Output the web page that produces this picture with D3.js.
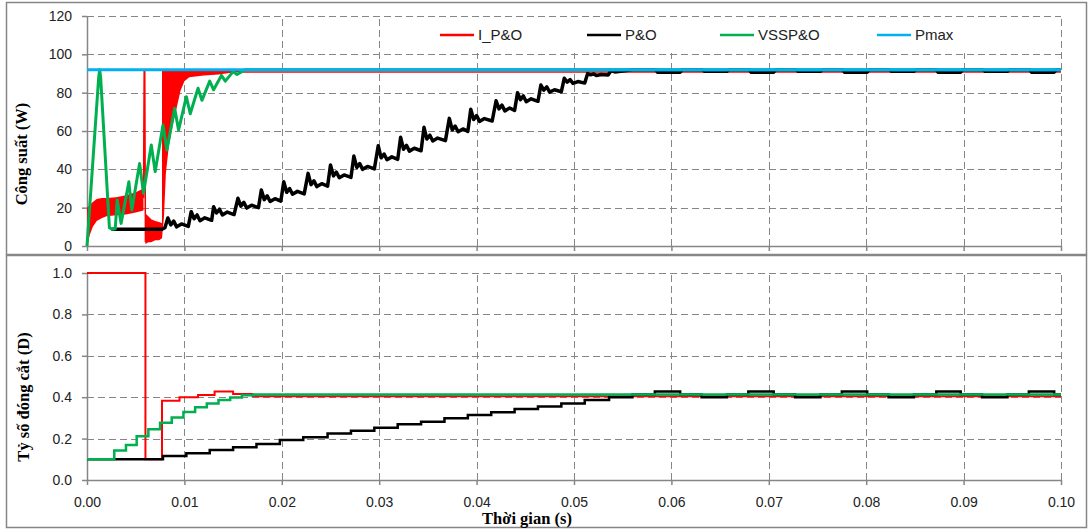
<!DOCTYPE html>
<html>
<head>
<meta charset="utf-8">
<script src="https://cdn.jsdelivr.net/npm/d3@7"></script>
<style>
body { margin: 0; background: #fff; }
svg { display: block; }
</style>
</head>
<body>
<svg id="chart" width="1088" height="531"></svg>
<script>
// ticks
var timeTicks = [0, 0.01, 0.02, 0.03, 0.04, 0.05, 0.06, 0.07, 0.08, 0.09, 0.10];
var powerTicks = [0, 20, 40, 60, 80, 100, 120];
var dutyTicks = [0, 0.2, 0.4, 0.6, 0.8, 1.0];
var seriesNames = ["I_P&O", "P&O", "VSSP&O", "Pmax"];
var seriesColors = ["#ff0000", "#000000", "#00b050", "#00b0f0"];

// ---- top panel: power (W) vs time (s) ----
var pmaxPower = [[0, 92], [0.1, 92]];

// I_P&O: dense oscillation drawn as bands [t, low, high]
var ipoBandA = [[0,0,20],[0.0003,6,21.5],[0.0006,10,23],[0.001,13,24.5],[0.0015,14.5,25],[0.002,15.5,25],[0.003,16,25.5],[0.004,16.5,26.5],[0.005,17.5,28],[0.0058,18.5,30]];
var ipoBandB = [[0.0060,1,17],[0.0063,2,15.5],[0.0066,2,14],[0.0070,3,13],[0.0074,3,12.5],[0.0077,4,12]];
var ipoBandC = [[0.0077,4,92],[0.0079,15,92],[0.0081,38,92],[0.0084,52,92],[0.0088,63,92],[0.0092,72,92],[0.0096,81,92],[0.0100,86,92],[0.0105,88,92],[0.0120,89,92],[0.0135,89.5,92],[0.0150,90.5,92],[0.0160,90.8,92]];
var ipoSpike = [[0.0058,25],[0.00587,92],[0.00593,92],[0.0060,2]];
var ipoSteady = [[0.0160,90.8],[0.1,90.8]];

var poPower = [[0.0025,8.7],[0.0077,8.7],[0.0080,9.5],
  [0.0083,14.6],[0.0086,11],[0.0089,13],[0.0092,10],[0.0097,11.5],[0.0104,10.2],
  [0.0107,17.9],[0.0110,14.2],[0.0113,16.2],[0.0116,13.2],[0.0121,14.7],[0.0128,13.4],
  [0.0130,20.5],[0.0133,17.2],[0.0136,19.2],[0.0139,16.2],[0.0144,17.7],[0.0151,16.4],
  [0.0155,24.9],[0.0158,20.8],[0.0161,22.8],[0.0164,19.8],[0.0169,21.3],[0.0176,20],
  [0.0179,29.2],[0.0182,24.2],[0.0185,26.2],[0.0188,23.2],[0.0193,24.7],[0.0199,23.4],
  [0.0202,33.5],[0.0205,28],[0.0208,30],[0.0211,27],[0.0216,28.5],[0.0223,27.2],
  [0.0227,37.9],[0.0230,32],[0.0233,34],[0.0236,31],[0.0241,32.5],[0.0247,31.2],
  [0.0250,42.3],[0.0253,36.6],[0.0256,38.6],[0.0259,35.6],[0.0264,37.1],[0.0271,35.8],
  [0.0274,46.9],[0.0277,41],[0.0280,43],[0.0283,40],[0.0288,41.5],[0.0295,40.2],
  [0.0299,52.3],[0.0302,46],[0.0305,48],[0.0308,45],[0.0313,46.5],[0.0319,45.2],
  [0.0322,56.7],[0.0325,50.5],[0.0328,52.5],[0.0331,49.5],[0.0336,51],[0.0343,49.7],
  [0.0346,61.9],[0.0349,55.8],[0.0352,57.8],[0.0355,54.8],[0.0360,56.3],[0.0368,55],
  [0.0372,66.6],[0.0375,60.6],[0.0378,62.6],[0.0381,59.6],[0.0386,61.1],[0.0391,59.8],
  [0.0394,71.3],[0.0397,66],[0.0400,68],[0.0403,65],[0.0408,66.5],[0.0416,65.2],
  [0.0420,75.8],[0.0423,71.5],[0.0426,73.5],[0.0429,70.5],[0.0434,72],[0.0439,70.7],
  [0.0442,80],[0.0445,76.3],[0.0448,78.3],[0.0451,75.3],[0.0456,76.8],[0.0463,75.5],
  [0.0466,84],[0.0469,81.3],[0.0472,83],[0.0475,80.3],[0.0480,81.5],[0.0487,80.5],
  [0.0490,87.5],[0.0493,85.5],[0.0496,86.8],[0.0499,84.8],[0.0504,85.8],[0.0511,85],
  [0.0514,90],[0.0517,89.3],[0.0520,89.8],[0.0523,89],[0.0528,89.5],[0.0535,89.2],
  [0.0538,91.5],[0.0542,90.8],[0.0560,91.9],
  [0.0584,91.9],[0.0586,90.6],[0.0609,90.7],[0.0611,91.9],[0.0632,91.9],[0.0634,91.2],[0.0657,91.2],[0.0659,91.9],
  [0.0680,91.9],[0.0682,90.6],[0.0705,90.7],[0.0707,91.9],[0.0728,91.9],[0.0730,91.2],[0.0753,91.2],[0.0755,91.9],
  [0.0776,91.9],[0.0778,90.6],[0.0801,90.7],[0.0803,91.9],[0.0824,91.9],[0.0826,91.2],[0.0849,91.2],[0.0851,91.9],
  [0.0872,91.9],[0.0874,90.6],[0.0897,90.7],[0.0899,91.9],[0.0920,91.9],[0.0922,91.2],[0.0945,91.2],[0.0947,91.9],
  [0.0968,91.9],[0.0970,90.6],[0.0993,90.7],[0.0995,91.9],[0.1,91.9]];

var vsspoPower = [[0,0],[0.0012,88],[0.0013,92],[0.0014,88],[0.0023,9.5],[0.0026,8.7],[0.0029,9],
  [0.0031,24],[0.0035,11.8],[0.0043,33.5],[0.0046,18.8],[0.0054,43.1],[0.0058,27.5],
  [0.0066,52.7],[0.0070,38.8],[0.0078,63.1],[0.0082,50.1],[0.0090,71.8],[0.0094,60.5],
  [0.0102,77.9],[0.0106,69],[0.0114,82.3],[0.0118,76],[0.0126,86],[0.0130,81.5],
  [0.0138,89],[0.0142,86],[0.0150,91],[0.0154,89.5],[0.0162,91.9],[0.1,91.9]];

// ---- bottom panel: duty ratio (D), step signals ----
var ipoDuty = [[0,1.0],[0.0060,0.1],[0.0077,0.383],[0.0095,0.40],[0.0114,0.411],[0.0131,0.427],[0.0150,0.415],[0.0170,0.405],[0.1,0.405]];
var poDuty = [[0,0.1],[0.0078,0.116],[0.0102,0.129],[0.0126,0.145],[0.0150,0.158],[0.0174,0.174],[0.0198,0.193],
  [0.0222,0.206],[0.0247,0.225],[0.0271,0.238],[0.0295,0.253],[0.0319,0.269],[0.0343,0.282],[0.0367,0.298],
  [0.0391,0.314],[0.0415,0.327],[0.0439,0.343],[0.0463,0.355],[0.0487,0.370],[0.0511,0.386],[0.0536,0.40],
  [0.0560,0.413],[0.0583,0.428],[0.0609,0.413],[0.0631,0.40],[0.0657,0.413],[0.0679,0.428],[0.0705,0.413],
  [0.0727,0.40],[0.0753,0.413],[0.0775,0.428],[0.0801,0.413],[0.0823,0.40],[0.0849,0.413],[0.0872,0.428],
  [0.0897,0.413],[0.0919,0.40],[0.0945,0.413],[0.0967,0.428],[0.0993,0.413],[0.1,0.413]];
var vsspoDuty = [[0,0.1],[0.0028,0.142],[0.0040,0.169],[0.0051,0.211],[0.0063,0.245],[0.0075,0.276],[0.0087,0.302],
  [0.0099,0.328],[0.0111,0.352],[0.0123,0.370],[0.0135,0.386],[0.0147,0.399],[0.0159,0.409],[0.0171,0.413],[0.1,0.413]];

var svg = d3.select("#chart");
var gray = "#868686";

svg.append("rect").attr("width", 1088).attr("height", 531).attr("fill", "#fff");

// chart frames
svg.append("rect").attr("x", 6.5).attr("y", 2.5).attr("width", 1080).attr("height", 252)
  .attr("fill", "none").attr("stroke", gray).attr("stroke-width", 1.5);
svg.append("rect").attr("x", 6.5).attr("y", 255.5).attr("width", 1080).attr("height", 272)
  .attr("fill", "none").attr("stroke", gray).attr("stroke-width", 1.5);

var x = d3.scaleLinear().domain([0, 0.1]).range([87, 1061]);
var yP = d3.scaleLinear().domain([0, 120]).range([246, 16]);
var yD = d3.scaleLinear().domain([0, 1]).range([480, 273]);

function grid(yScale, yTicks) {
    var g = svg.append("g").attr("stroke", gray).attr("stroke-dasharray", "7,4").attr("stroke-width", 1);
    g.selectAll(".h").data(yTicks.slice(1)).enter().append("line")
      .attr("x1", x(0)).attr("x2", x(0.1))
      .attr("y1", d => Math.round(yScale(d)) + 0.5).attr("y2", d => Math.round(yScale(d)) + 0.5);
    g.selectAll(".v").data(timeTicks.slice(1)).enter().append("line")
      .attr("x1", d => Math.round(x(d)) + 0.5).attr("x2", d => Math.round(x(d)) + 0.5)
      .attr("y1", yScale.range()[0]).attr("y2", yScale.range()[1]);
}
grid(yP, powerTicks);
grid(yD, dutyTicks);

function styleAxis(g) {
    g.selectAll("path").attr("stroke", gray).attr("stroke-width", 1.5);
    g.selectAll("line").attr("stroke", gray).attr("stroke-width", 1.5);
    g.selectAll("text").attr("fill", "#222").style("font-family", "Liberation Sans, Arial, sans-serif").style("font-size", "14px");
}

// axes
svg.append("g").attr("transform", "translate(0," + yP(0) + ")")
  .call(d3.axisBottom(x).tickValues(timeTicks).tickFormat("").tickSize(5).tickSizeOuter(0))
  .call(styleAxis);
svg.append("g").attr("transform", "translate(" + x(0) + ",0)")
  .call(d3.axisLeft(yP).tickValues(powerTicks).tickFormat(d3.format("d")).tickSize(5).tickPadding(10).tickSizeOuter(0))
  .call(styleAxis);
svg.append("g").attr("transform", "translate(0," + yD(0) + ")")
  .call(d3.axisBottom(x).tickValues(timeTicks).tickFormat(d3.format(".2f")).tickSize(5).tickPadding(12).tickSizeOuter(0))
  .call(styleAxis);
svg.append("g").attr("transform", "translate(" + x(0) + ",0)")
  .call(d3.axisLeft(yD).tickValues(dutyTicks).tickFormat(d3.format(".1f")).tickSize(5).tickPadding(10).tickSizeOuter(0))
  .call(styleAxis);

// legend background hides the grid
svg.append("rect").attr("x", 385).attr("y", 18).attr("width", 670).attr("height", 35).attr("fill", "#fff");

// power series
var band = d3.area().x(d => x(d[0])).y0(d => yP(d[1])).y1(d => yP(d[2]));
var lineP = d3.line().x(d => x(d[0])).y(d => yP(d[1]));
var lineD = d3.line().x(d => x(d[0])).y(d => yD(d[1])).curve(d3.curveStepAfter);

[ipoBandA, ipoBandB, ipoBandC].forEach(function(b) {
    svg.append("path").datum(b).attr("d", band).attr("fill", seriesColors[0]);
});
[ipoSpike, ipoSteady].forEach(function(l) {
    svg.append("path").datum(l).attr("d", lineP).attr("fill", "none")
      .attr("stroke", seriesColors[0]).attr("stroke-width", 1.5);
});
svg.append("path").datum(poPower).attr("d", lineP).attr("fill", "none")
  .attr("stroke", seriesColors[1]).attr("stroke-width", 3.5).attr("stroke-linejoin", "round");
svg.append("path").datum(vsspoPower).attr("d", lineP).attr("fill", "none")
  .attr("stroke", seriesColors[2]).attr("stroke-width", 3).attr("stroke-linejoin", "round");
svg.append("path").datum(pmaxPower).attr("d", lineP).attr("fill", "none")
  .attr("stroke", seriesColors[3]).attr("stroke-width", 3);

// duty series
svg.append("path").datum(ipoDuty).attr("d", lineD).attr("fill", "none")
  .attr("stroke", seriesColors[0]).attr("stroke-width", 2);
svg.append("path").datum(poDuty).attr("d", lineD).attr("fill", "none")
  .attr("stroke", seriesColors[1]).attr("stroke-width", 2.5);
svg.append("path").datum(vsspoDuty).attr("d", lineD).attr("fill", "none")
  .attr("stroke", seriesColors[2]).attr("stroke-width", 2.5);

// legend
var legendX = [440, 587, 720, 877];
var legend = svg.append("g").attr("transform", "translate(0,35)");
seriesNames.forEach(function(name, i) {
    legend.append("line").attr("x1", legendX[i]).attr("x2", legendX[i] + 34)
      .attr("stroke", seriesColors[i]).attr("stroke-width", 2.5);
    legend.append("text").attr("x", legendX[i] + 38).attr("dy", "0.35em")
      .style("font-family", "Liberation Sans, Arial, sans-serif").style("font-size", "15px")
      .attr("fill", "#222").text(name);
});

// axis titles
var titleFont = "Liberation Serif, Times New Roman, serif";
svg.append("text").attr("transform", "translate(21,154) rotate(-90)")
  .attr("text-anchor", "middle").attr("dy", "0.35em")
  .style("font-family", titleFont).style("font-size", "16.5px").style("font-weight", "bold")
  .text("Công suất (W)");
svg.append("text").attr("transform", "translate(23,397) rotate(-90)")
  .attr("text-anchor", "middle").attr("dy", "0.35em")
  .style("font-family", titleFont).style("font-size", "16.5px").style("font-weight", "bold")
  .text("Tỷ số đóng cắt (D)");
svg.append("text").attr("x", 527).attr("y", 518).attr("dy", "0.35em")
  .attr("text-anchor", "middle")
  .style("font-family", titleFont).style("font-size", "16.5px").style("font-weight", "bold")
  .text("Thời gian (s)");
</script>
</body>
</html>
